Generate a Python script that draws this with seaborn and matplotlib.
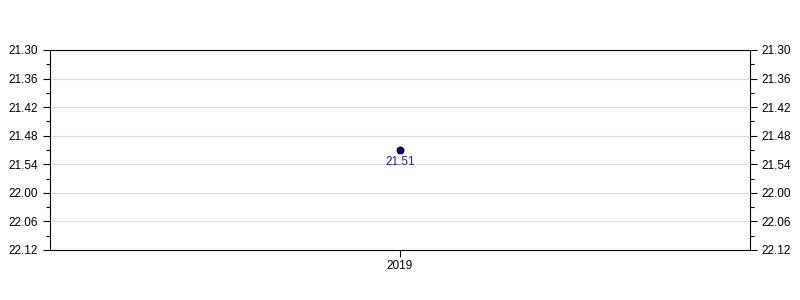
import matplotlib
matplotlib.use("Agg")
import matplotlib.pyplot as plt
from matplotlib.ticker import FuncFormatter, MultipleLocator
import seaborn as sns
import pandas as pd

years = ["2019"]
times = ["21.51"]  # minutes.seconds
tick_min, tick_max = "21.30", "22.12"

def to_sec(s):
    m, sec = s.split(".")
    return int(m) * 60 + int(sec)

secs = [to_sec(t) for t in times]
df = pd.DataFrame({"year": years, "sec": secs, "label": times})

sns.set_style("white")
plt.rcParams["font.family"] = ["Liberation Sans", "DejaVu Sans"]

fig = plt.figure(figsize=(8, 3), dpi=100)
ax = fig.add_axes([0.0625, 0.1667, 0.875, 0.6667])

sns.scatterplot(data=df, x="year", y="sec", ax=ax, color="#000080",
                edgecolor="black", linewidth=0.8, s=24, zorder=3, legend=False)
for _, r in df.iterrows():
    ax.annotate(r["label"], (r["year"], r["sec"]), xytext=(0, -4),
                textcoords="offset points", ha="center", va="top",
                color="#2020b0", fontsize=8.5)

ax.set_xlim(-0.5, 0.5)
ax.set_ylim(to_sec(tick_max), to_sec(tick_min))
ax.yaxis.set_major_locator(MultipleLocator(6))
ax.yaxis.set_minor_locator(MultipleLocator(3))
fmt = FuncFormatter(lambda v, p: f"{int(v // 60)}.{int(round(v % 60)):02d}")
ax.yaxis.set_major_formatter(fmt)
ax.tick_params(axis="y", which="both", left=True, right=True, labelleft=True,
               labelright=True, direction="out", labelsize=8.5, color="black",
               labelcolor="black")
ax.tick_params(axis="y", which="major", length=5, width=0.8)
ax.tick_params(axis="y", which="minor", length=3, width=0.8)
ax.tick_params(axis="x", bottom=True, length=5, width=0.8, labelsize=8.5,
               color="black", labelcolor="black", pad=2)
ax.grid(axis="y", which="major", color="#dddddd", linewidth=0.8)
ax.set_xlabel("")
ax.set_ylabel("")
for s in ax.spines.values():
    s.set_color("black")
    s.set_linewidth(0.8)
ax.spines["top"].set_visible(True)

fig.savefig("out.png", dpi=100)
